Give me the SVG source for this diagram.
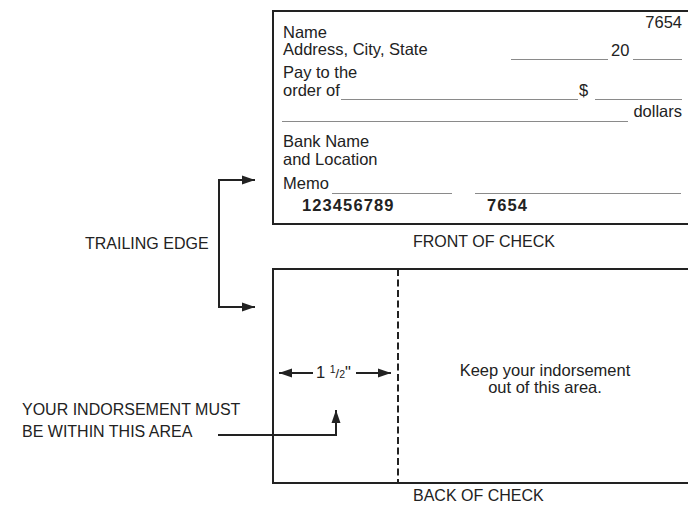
<svg xmlns="http://www.w3.org/2000/svg" width="688" height="507" viewBox="0 0 688 507">
<style>
text{font-family:"Liberation Sans",Arial,Helvetica,sans-serif;fill:#222;font-size:16.5px}
.lbl{font-size:16px}
.b{font-weight:bold;letter-spacing:1.1px}
.rule{stroke:#8a8a8a;stroke-width:1.2;fill:none}
.border{stroke:#222;stroke-width:2;fill:#fff}
.conn{stroke:#222;stroke-width:2;fill:none}
</style>
<defs>
<marker id="arr" markerUnits="userSpaceOnUse" markerWidth="14" markerHeight="10" refX="13" refY="5" orient="auto-start-reverse">
<path d="M0,0.5 L13,5 L0,9.5 z" fill="#222"/>
</marker>
</defs>
<rect width="688" height="507" fill="#fff"/>
<g id="front-check">
<rect class="border" x="273" y="11" width="430" height="213"/>
<text x="682" y="28" text-anchor="end">7654</text>
<text x="283" y="38">Name</text>
<text x="283" y="55">Address, City, State</text>
<line class="rule" x1="511" y1="59.5" x2="608" y2="59.5"/>
<text x="611" y="56">20</text>
<line class="rule" x1="633" y1="59.5" x2="682" y2="59.5"/>
<text x="283" y="78">Pay to the</text>
<text x="283" y="96">order of</text>
<line class="rule" x1="341" y1="99.5" x2="578" y2="99.5"/>
<text x="579" y="96">$</text>
<line class="rule" x1="595" y1="99.5" x2="682" y2="99.5"/>
<text x="682" y="117" text-anchor="end">dollars</text>
<line class="rule" x1="282" y1="121.5" x2="628" y2="121.5"/>
<text x="283" y="147">Bank Name</text>
<text x="283" y="165">and Location</text>
<text x="283" y="189">Memo</text>
<line class="rule" x1="332" y1="193.5" x2="452" y2="193.5"/>
<line class="rule" x1="475" y1="193.5" x2="681" y2="193.5"/>
<text class="b" x="302" y="211">123456789</text>
<text class="b" x="487" y="211">7654</text>
</g>
<text id="front-caption" class="lbl" x="413" y="247">FRONT OF CHECK</text>
<g id="back-check">
<rect class="border" x="273" y="269" width="430" height="214"/>
<line x1="398" y1="269" x2="398" y2="483" stroke="#222" stroke-width="2" stroke-dasharray="7,3.5"/>
<text x="316" y="378" font-size="16">1 <tspan font-size="10.5" dy="-5">1</tspan><tspan font-size="13" dy="5">/</tspan><tspan font-size="10.5">2</tspan>"</text>
<text x="545" y="376" text-anchor="middle" font-size="16.5">Keep your indorsement</text>
<text x="545" y="393" text-anchor="middle" font-size="16.5">out of this area.</text>
</g>
<text id="back-caption" class="lbl" x="413" y="501">BACK OF CHECK</text>
<g id="trailing-edge">
<text class="lbl" x="85" y="249">TRAILING EDGE</text>
</g>
<g id="indorsement-note">
<text class="lbl" x="22" y="415">YOUR INDORSEMENT MUST</text>
<text class="lbl" x="22" y="437">BE WITHIN THIS AREA</text>
</g>
<g id="connectors">
<path class="conn" d="M255,180 H219 V307 H255" marker-start="url(#arr)" marker-end="url(#arr)"/>
<path class="conn" d="M313,373 H279" marker-end="url(#arr)"/>
<path class="conn" d="M356,373 H391" marker-end="url(#arr)"/>
<path class="conn" d="M218,435 H336 V410" marker-end="url(#arr)"/>
</g>
</svg>
